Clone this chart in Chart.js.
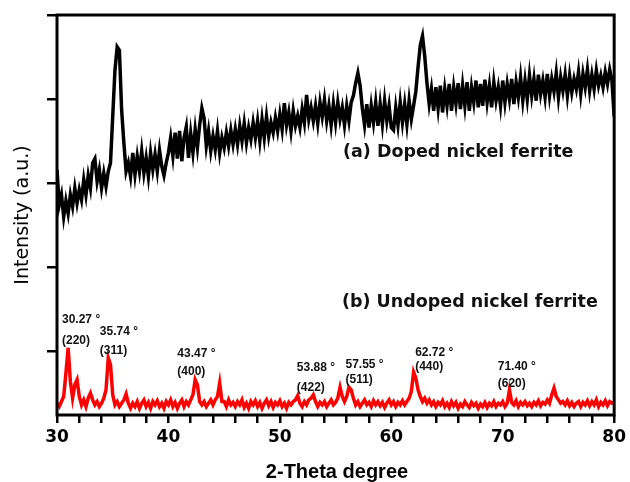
<!DOCTYPE html>
<html lang="en">
<head>
    <meta charset="UTF-8">
    <title>XRD - nickel ferrite</title>
    <script src="https://cdn.jsdelivr.net/npm/chart.js"></script>
    <style>
        body {
            margin: 0;
            padding: 0;
            background-color: #fff;
        }
        .chart-container {
            width: 630px;
            height: 482px;
        }
    </style>
</head>
<body>
    <div class="chart-container">
        <canvas id="xrdChart"></canvas>
    </div>

    <script>
        // scan grid (2-theta, degree)
        const scanStart = 30;
        const scanStep = 0.2;

        // (a) doped nickel ferrite, one row per degree
        const dopedCounts = [
            292, 250, 262, 236, 255,
            240, 262, 248, 270, 252,
            268, 256, 280, 262, 285,
            270, 300, 305, 278, 292,
            270, 288, 272, 290, 300,
            355, 410, 438, 434, 363,
            324, 290, 300, 284, 312,
            286, 308, 290, 314, 288,
            306, 284, 312, 292, 310,
            290, 315, 296, 285, 300,
            312, 330, 308, 336, 305,
            338, 302, 330, 343, 306,
            335, 312, 340, 318, 345,
            365, 353, 320, 338, 314,
            332, 316, 338, 312, 330,
            318, 336, 320, 339, 322,
            340, 322, 344, 326, 347,
            324, 342, 328, 348, 330,
            350, 326, 352, 330, 355,
            332, 348, 336, 354, 338,
            358, 340, 371, 345, 360,
            338, 362, 344, 356, 342,
            364, 348, 381, 352, 366,
            350, 368, 347, 372, 355,
            375, 350, 368, 345, 370,
            348, 372, 352, 366, 345,
            368, 350, 372, 380, 395,
            407, 392, 365, 345, 370,
            342, 368, 348, 372, 344,
            370, 346, 374, 350, 368,
            342, 339, 366, 345, 372,
            348, 370, 346, 374, 352,
            368, 385, 414, 440, 451,
            427, 395, 370, 388, 362,
            390, 365, 392, 360, 388,
            368, 394, 362, 390, 370,
            395, 364, 392, 368, 396,
            362, 390, 372, 398, 366,
            394, 368, 399, 372, 392,
            366, 396, 374, 390, 368,
            398, 372, 394, 376, 400,
            370, 396, 378, 402, 374,
            398, 376, 404, 380, 400,
            374, 405, 382, 398, 378,
            406, 380, 400, 385, 407,
            378, 402, 386, 405, 380,
            404, 384, 400, 388, 408,
            382, 406, 390, 411, 386,
            405, 388, 410, 392, 404,
            390, 408, 394, 411, 398,
            355
        ];

        // (b) undoped nickel ferrite
        const undopedCounts = [
            14, 10, 16, 22, 50,
            80, 40, 20, 36, 42,
            22, 12, 18, 10, 20,
            26, 18, 12, 16, 10,
            14, 20, 30, 68, 60,
            24, 12, 16, 10, 14,
            18, 25, 14, 8, 14,
            10, 16, 8, 14, 18,
            10, 15, 8, 16, 12,
            17, 10, 14, 8, 16,
            12, 18, 10, 15, 8,
            14, 18, 10, 16, 12,
            18, 24, 42, 36, 16,
            12, 16, 10, 14, 18,
            12, 18, 22, 38, 16,
            16, 10, 18, 12, 15,
            10, 16, 12, 18, 9,
            14, 8, 16, 12, 17,
            10, 15, 8, 14, 18,
            11, 16, 9, 15, 12,
            17, 10, 14, 8, 15,
            12, 16, 18, 23, 14,
            10, 16, 12, 18, 20,
            24, 16, 10, 15, 12,
            16, 10, 14, 18, 12,
            15, 20, 33, 22, 16,
            22, 33, 30, 20, 12,
            16, 10, 14, 18, 12,
            15, 10, 17, 12, 16,
            11, 15, 9, 14, 18,
            12, 16, 10, 15, 12,
            17, 12, 16, 20, 28,
            51, 44, 30, 22, 16,
            20, 14, 18, 12, 16,
            10, 15, 12, 17, 10,
            14, 9, 16, 11, 15,
            8, 13, 10, 16, 12,
            9, 15, 11, 14, 8,
            13, 10, 15, 9, 14,
            11, 16, 10, 14, 12,
            16, 10, 14, 30, 15,
            12, 17, 10, 15, 12,
            16, 11, 14, 10, 15,
            12, 17, 11, 15, 13,
            18, 14, 24, 32, 22,
            18, 14, 16, 12, 17,
            11, 15, 10, 14, 16,
            10, 15, 12, 17, 11,
            16, 12, 18, 10, 15,
            12, 17, 11, 16, 14,
            15
        ];

        // axes
        const yTickValues = [76, 176, 276, 376, 476];
        const xLabelEvery = 10;

        // peak annotations of the undoped sample
        const peakAngles = ['30.27 °', '35.74 °', '43.47 °', '53.88 °', '57.55 °', '62.72 °', '71.40 °'];
        const peakHkl = ['(220)', '(311)', '(400)', '(422)', '(511)', '(440)', '(620)'];

        const toPoints = arr => arr.map((v, i) => ({ x: +(scanStart + i * scanStep).toFixed(1), y: v }));

        // where the annotation text sits (2-theta, intensity)
        const peakLabelPos = [
            [30.45, 113, 89], [33.84, 99, 77], [40.8, 73, 51], [51.52, 56, 33],
            [55.89, 60, 42], [62.14, 74, 57], [69.55, 58, 37]
        ];

        const textPlugin = {
            id: 'frameAndText',
            afterDraw(chart) {
                const ctx = chart.ctx;
                const a = chart.chartArea;
                const xs = chart.scales.x, ys = chart.scales.y;
                ctx.save();
                // box
                ctx.strokeStyle = '#000';
                ctx.lineWidth = 3;
                ctx.strokeRect(a.left, a.top, a.right - a.left, a.bottom - a.top);

                ctx.fillStyle = '#111';
                ctx.textBaseline = 'middle';
                ctx.textAlign = 'left';
                ctx.font = 'bold 17.5px "DejaVu Sans"';
                ctx.fillText('(a) Doped nickel ferrite', 343, 152);
                ctx.fillText('(b) Undoped nickel ferrite', 342, 302);

                ctx.font = 'bold 12px "Liberation Sans"';
                peakLabelPos.forEach((p, i) => {
                    const px = xs.getPixelForValue(p[0]);
                    ctx.fillText(peakAngles[i], px, ys.getPixelForValue(p[1]));
                    ctx.fillText(peakHkl[i], px, ys.getPixelForValue(p[2]));
                });

                // axis titles
                ctx.fillStyle = '#000';
                ctx.textAlign = 'center';
                ctx.font = 'bold 20px "Liberation Sans"';
                ctx.fillText('2-Theta degree', 337, 472);
                ctx.translate(23, 215);
                ctx.rotate(-Math.PI / 2);
                ctx.font = '19px "DejaVu Sans"';
                ctx.fillText('Intensity (a.u.)', 0, 0);
                ctx.restore();
            }
        };

        const config = {
            type: 'line',
            data: {
                datasets: [{
                    label: 'Doped nickel ferrite',
                    data: toPoints(dopedCounts),
                    borderColor: '#000',
                    borderWidth: 3.5,
                    pointRadius: 0,
                    tension: 0
                }, {
                    label: 'Undoped nickel ferrite',
                    data: toPoints(undopedCounts),
                    borderColor: '#ff0000',
                    borderWidth: 3.5,
                    pointRadius: 0,
                    tension: 0
                }]
            },
            options: {
                responsive: true,
                maintainAspectRatio: false,
                animation: false,
                layout: { padding: { top: 15, right: 13, left: 0, bottom: 0 } },
                plugins: {
                    legend: { display: false },
                    tooltip: { enabled: false }
                },
                scales: {
                    x: {
                        type: 'linear',
                        min: 30,
                        max: 80,
                        border: { display: false },
                        grid: {
                            drawOnChartArea: false,
                            drawTicks: true,
                            tickLength: 8,
                            color: '#000',
                            lineWidth: 2.5
                        },
                        ticks: {
                            stepSize: 2,
                            autoSkip: false,
                            maxRotation: 0,
                            padding: 4,
                            color: '#000',
                            font: { family: 'DejaVu Sans', size: 17, weight: 'bold' },
                            callback: v => (v % xLabelEvery === 0 ? v : '')
                        },
                        afterFit: s => { s.height = 67; }
                    },
                    y: {
                        min: 0,
                        max: 476,
                        border: { display: false },
                        grid: {
                            drawOnChartArea: false,
                            drawTicks: true,
                            tickLength: 10,
                            color: '#000',
                            lineWidth: 2.5
                        },
                        ticks: { display: false },
                        afterBuildTicks: s => { s.ticks = yTickValues.map(v => ({ value: v })); },
                        afterFit: s => { s.width = 57; }
                    }
                }
            },
            plugins: [textPlugin]
        };

        window.onload = function() {
            const ctx = document.getElementById('xrdChart').getContext('2d');
            new Chart(ctx, config);
        };
    </script>
</body>
</html>
